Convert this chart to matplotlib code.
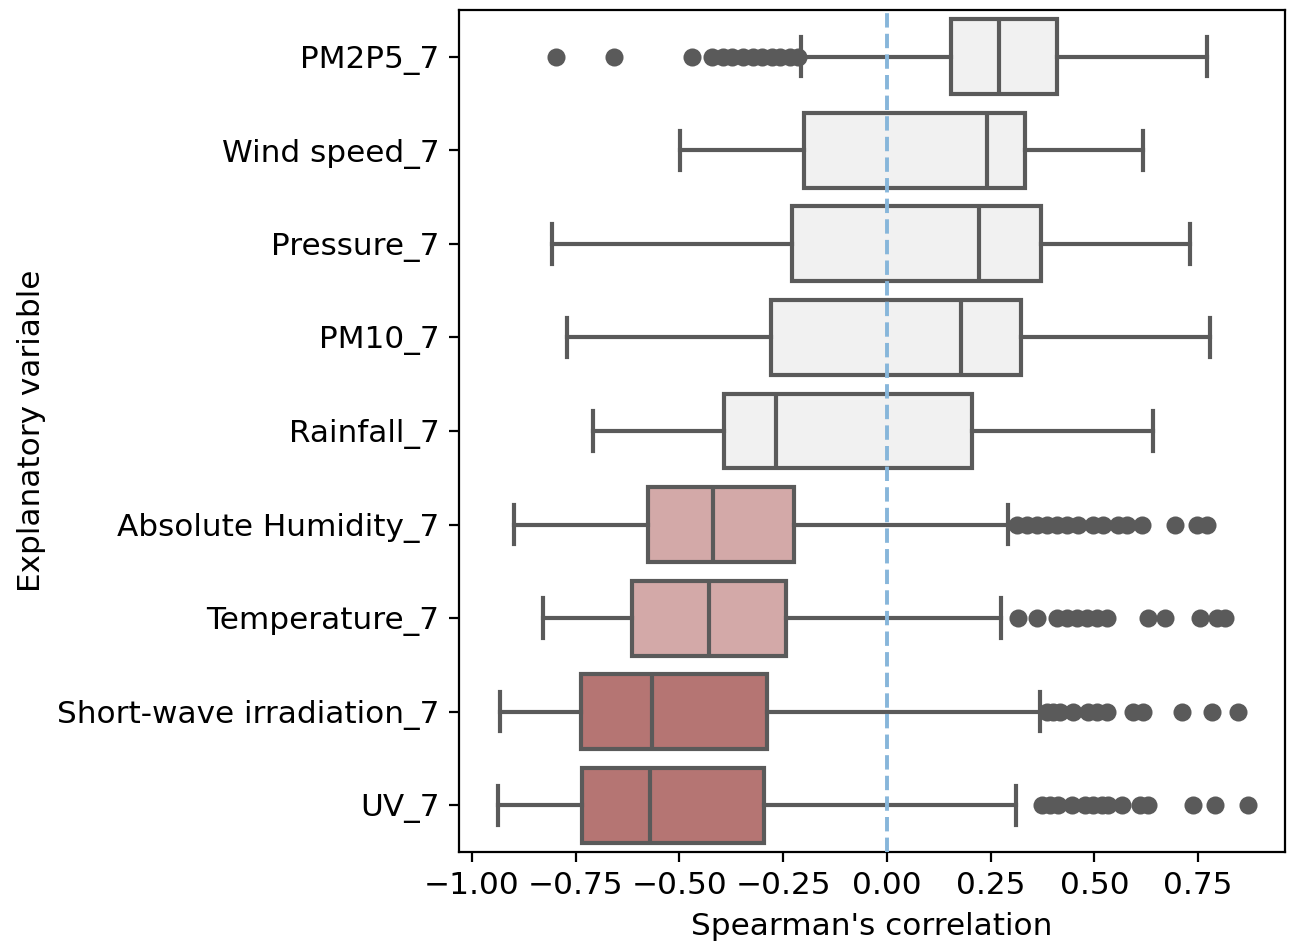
import numpy as np
import matplotlib.pyplot as plt

# variabili esplicative (dall'alto in basso)
labels = ['PM2P5_7', 'Wind speed_7', 'Pressure_7', 'PM10_7', 'Rainfall_7',
          'Absolute Humidity_7', 'Temperature_7', 'Short-wave irradiation_7', 'UV_7']

# statistiche dei box
q1 = [0.154, -0.200, -0.229, -0.280, -0.393, -0.576, -0.614, -0.737, -0.735]
med = [0.270, 0.241, 0.222, 0.178, -0.267, -0.419, -0.429, -0.566, -0.571]
q3 = [0.410, 0.333, 0.371, 0.323, 0.205, -0.224, -0.243, -0.289, -0.296]
whislo = [-0.207, -0.499, -0.807, -0.771, -0.708, -0.899, -0.829, -0.933, -0.937]
whishi = [0.771, 0.617, 0.730, 0.778, 0.641, 0.292, 0.275, 0.369, 0.311]

fliers = [
    [-0.798, -0.658, -0.470, -0.422, -0.395, -0.373, -0.347, -0.323, -0.301,
     -0.277, -0.258, -0.234, -0.214],
    [],
    [],
    [],
    [],
    [0.313, 0.337, 0.361, 0.386, 0.410, 0.434, 0.460, 0.496, 0.520, 0.557,
     0.578, 0.614, 0.694, 0.747, 0.771],
    [0.316, 0.361, 0.410, 0.434, 0.458, 0.482, 0.506, 0.530, 0.629, 0.670,
     0.754, 0.795, 0.814],
    [0.386, 0.400, 0.417, 0.448, 0.484, 0.506, 0.530, 0.593, 0.617, 0.711,
     0.783, 0.846],
    [0.373, 0.393, 0.412, 0.446, 0.477, 0.496, 0.518, 0.533, 0.566, 0.610,
     0.629, 0.737, 0.790, 0.870],
]

colori = ['#f1f1f1'] * 5 + ['#d3a9a8'] * 2 + ['#b57573'] * 2

grigio = '#5a5a5a'

plt.rcParams['font.size'] = 11.2

stats = []
for i in range(len(labels)):
    stats.append(dict(label=labels[i], q1=q1[i], med=med[i], q3=q3[i],
                      whislo=whislo[i], whishi=whishi[i], fliers=fliers[i]))

fig = plt.figure(figsize=(6.465, 4.715), dpi=200)
ax = fig.add_axes([0.355, 0.0965, 0.6388, 0.8929])

pos = np.arange(len(labels))
bp = ax.bxp(stats, positions=pos, vert=False, widths=0.8, capwidths=0.42,
            patch_artist=True,
            boxprops=dict(edgecolor=grigio, linewidth=1.5),
            medianprops=dict(color=grigio, linewidth=1.5),
            whiskerprops=dict(color=grigio, linewidth=1.5),
            capprops=dict(color=grigio, linewidth=1.5),
            flierprops=dict(marker='o', markerfacecolor=grigio,
                            markeredgecolor=grigio, markersize=5.5))
for patch, c in zip(bp['boxes'], colori):
    patch.set_facecolor(c)

ax.axvline(0, color='#87b6da', linestyle='--', linewidth=1.4, zorder=5)

ax.set_ylim(len(labels) - 0.5, -0.5)
ax.set_xlim(-1.031, 0.959)
ax.set_yticks(pos)
ax.set_yticklabels(labels)
ax.set_xticks([-1.0, -0.75, -0.5, -0.25, 0.0, 0.25, 0.5, 0.75])
ax.set_xlabel("Spearman's correlation")
ax.set_ylabel('Explanatory variable')

fig.savefig('out.png', dpi=200)
